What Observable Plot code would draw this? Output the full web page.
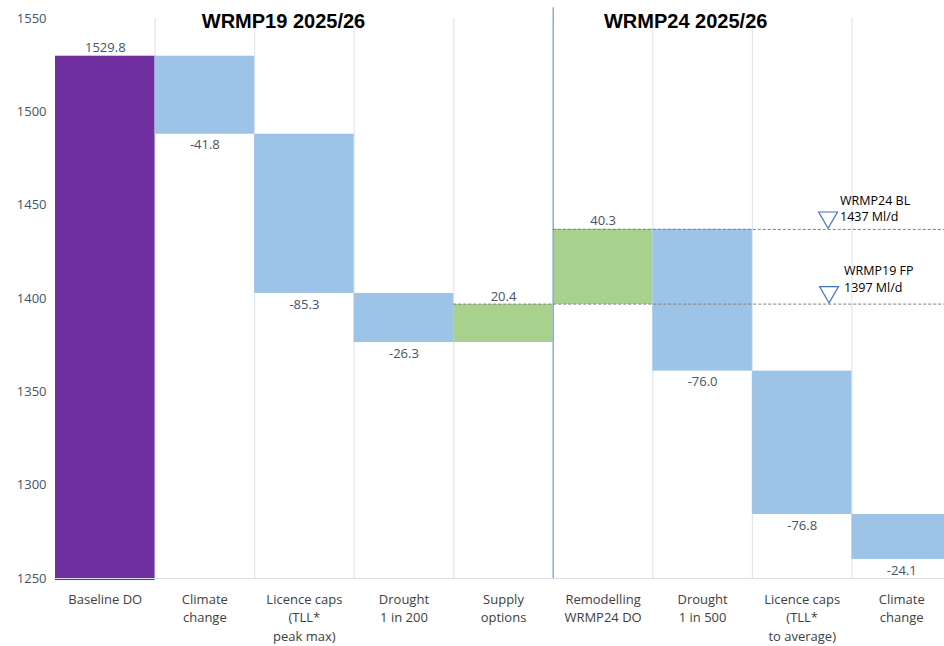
<!DOCTYPE html>
<html>
<head>
<meta charset="utf-8">
<script src="https://cdn.jsdelivr.net/npm/d3@7"></script>
<script src="https://cdn.jsdelivr.net/npm/@observablehq/plot@0.6"></script>
<style>
  html, body { margin: 0; padding: 0; background: #fff; overflow: hidden; }
  svg { max-width: none !important; }
</style>
</head>
<body>
<div id="chart"></div>
<script>
// ---- data ----
const categories = [
  "Baseline DO",
  "Climate\nchange",
  "Licence caps\n(TLL*\npeak max)",
  "Drought\n1 in 200",
  "Supply\noptions",
  "Remodelling\nWRMP24 DO",
  "Drought\n1 in 500",
  "Licence caps\n(TLL*\nto average)",
  "Climate\nchange"
];
const changes = [1529.8, -41.8, -85.3, -26.3, 20.4, 40.3, -76.0, -76.8, -24.1];
const kinds = ["total", "change", "change", "change", "change", "change", "change", "change", "change"];
const yTicks = [1250, 1300, 1350, 1400, 1450, 1500, 1550];
const periodTitles = ["WRMP19 2025/26", "WRMP24 2025/26"];
const refLevels = [1437, 1397];
const refLabels = ["WRMP24 BL\n1437 Ml/d", "WRMP19 FP\n1397 Ml/d"];

// ---- build waterfall table ----
let running = 0;
const rows = changes.map((v, i) => {
  let start, end;
  if (kinds[i] === "total") { start = 1248.9; end = v; running = v; }
  else { start = running; end = running + v; running = end; }
  return {i, label: categories[i], value: v, start, end, kind: kinds[i],
          top: Math.max(start, end), bottom: Math.min(start, end)};
});
const colorOf = d => d.kind === "total" ? "#7030a0" : (d.value < 0 ? "#9dc3e6" : "#a9d18e");
const posRows = rows.filter(d => d.value >= 0);
const negRows = rows.filter(d => d.value < 0);

const labelColor = "#44546a";
const font = "'Open Sans', 'Noto Sans', sans-serif";

const plot = Plot.plot({
  width: 944,
  height: 646,
  marginLeft: 55,
  marginRight: 0,
  marginTop: 18,
  marginBottom: 68,
  style: {fontFamily: font, fontSize: "13px", background: "#fff", overflow: "hidden"},
  x: {domain: [0, 9], range: [55, 951], axis: null},
  y: {domain: [1250, 1550], range: [578, 18], axis: null},
  marks: [
    // vertical gridlines at category boundaries
    Plot.ruleX(d3.range(1, 10), {y1: 1250, y2: 1550, stroke: "#dfe6ee", strokeWidth: 1.2}),
    // bars
    Plot.rectY(rows, {x1: d => d.i, x2: d => d.i + 1, y1: "start", y2: "end", fill: colorOf}),
    // bottom axis line
    Plot.ruleY([1250], {x1: 0, x2: 9, stroke: "#d9dfe7", strokeWidth: 1.2}),
    // separator between WRMP19 and WRMP24
    Plot.ruleX([5], {y1: 1250, y2: 1555.8, stroke: "#8eaadb", strokeWidth: 1.5}),
    // dashed reference lines
    Plot.ruleY(refLevels, {x1: (d, j) => j === 0 ? 5 : 4, x2: 9, stroke: "#7f7f7f", strokeDasharray: "3,2", strokeWidth: 1}),
    // value labels
    Plot.text(posRows, {x: d => d.i + 0.5, y: "top", text: d => d.value.toFixed(1), lineAnchor: "middle", dy: -8, fill: labelColor, fontSize: 13}),
    Plot.text(negRows, {x: d => d.i + 0.5, y: "bottom", text: d => d.value.toFixed(1), lineAnchor: "middle", dy: 11, fill: labelColor, fontSize: 13}),
    // y tick labels
    Plot.text(yTicks, {x: 0, y: d => d, text: d => String(d), textAnchor: "end", dx: -9, fill: labelColor, fontSize: 13}),
    // x tick labels
    Plot.text(rows, {x: d => d.i + 0.5, y: 1250, text: "label", lineAnchor: "top", dy: 12, lineHeight: 1.42, fill: "#404040", fontSize: 13}),
    // period titles
    Plot.text([periodTitles[0]], {x: 2.29, y: 1550, text: d => d, lineAnchor: "middle", dy: 3, fontFamily: "'Liberation Sans', Arial, sans-serif", fontWeight: "bold", fontSize: 20, fill: "#000"}),
    Plot.text([periodTitles[1]], {x: 6.33, y: 1550, text: d => d, lineAnchor: "middle", dy: 3, fontFamily: "'Liberation Sans', Arial, sans-serif", fontWeight: "bold", fontSize: 20, fill: "#000"}),
    // reference markers
    Plot.dot([refLevels[0]], {x: 7.76, y: d => d, dy: -12, symbol: "triangle", rotate: 180, r: 7, stroke: "#4472c4", strokeWidth: 1.2, fill: "none"}),
    Plot.dot([refLevels[1]], {x: 7.77, y: d => d, dy: -12, symbol: "triangle", rotate: 180, r: 7, stroke: "#4472c4", strokeWidth: 1.2, fill: "none"}),
    Plot.text([refLabels[0]], {x: 7.88, y: refLevels[0], text: d => d, textAnchor: "start", lineAnchor: "bottom", dy: -8, lineHeight: 1.35, fontSize: 12.5, fill: "#000"}),
    Plot.text([refLabels[1]], {x: 7.92, y: refLevels[1], text: d => d, textAnchor: "start", lineAnchor: "bottom", dy: -12, lineHeight: 1.35, fontSize: 12.5, fill: "#000"})
  ]
});
document.getElementById("chart").appendChild(plot);
</script>
</body>
</html>
